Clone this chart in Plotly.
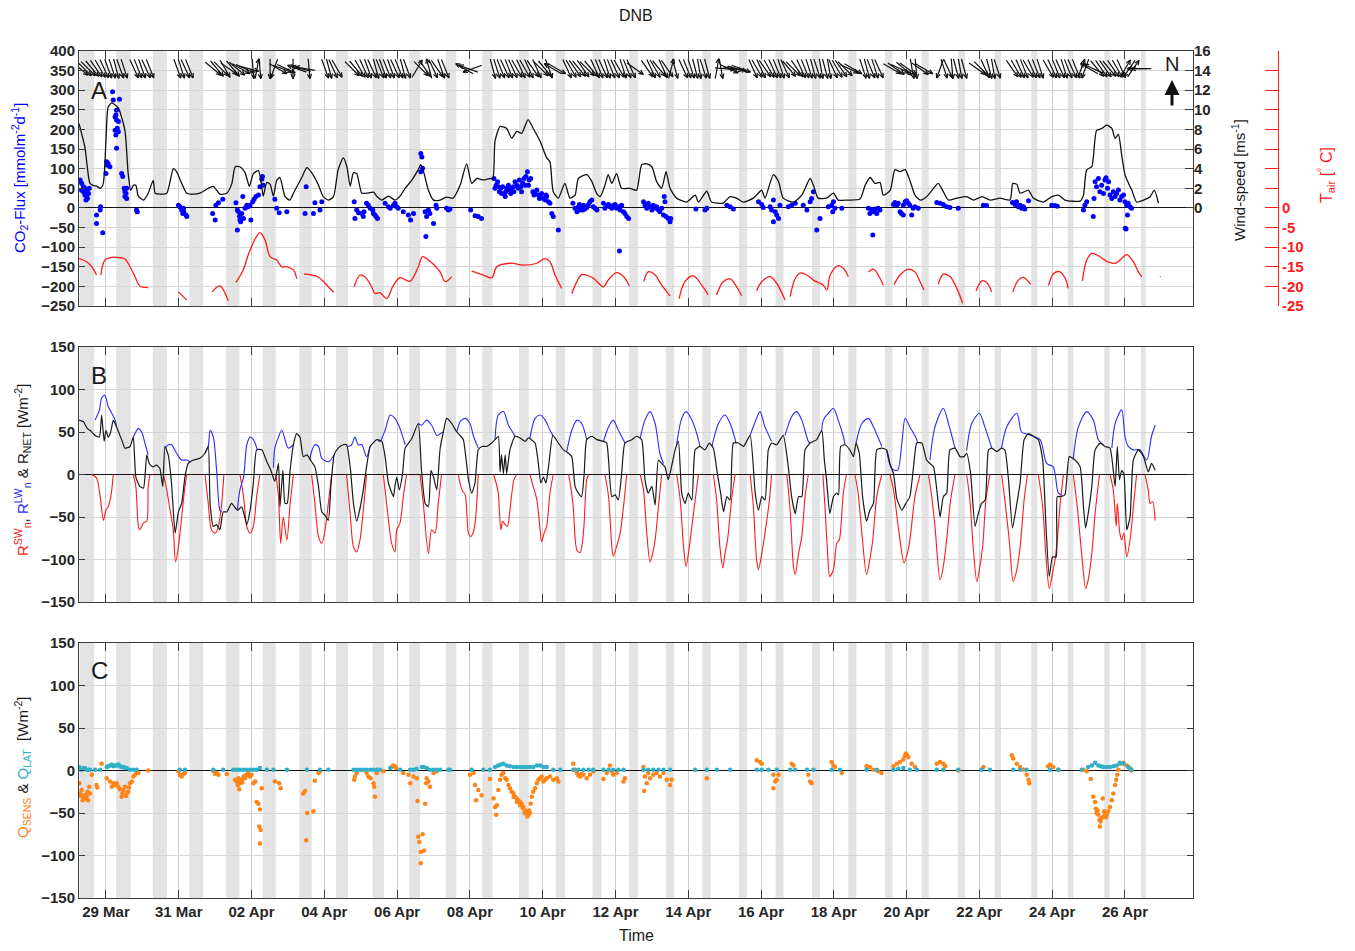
import math
import pandas as pd
import plotly.graph_objects as go

BASE = pd.Timestamp('2017-03-28')          # day 0 = 28 Mar 00:00
X_START = '2017-03-28 06:12'
X_END = '2017-04-27 20:53'

# ---------------- DATA (day offset from 28 Mar 00:00, value) ----------------
co2_flux = [
 (0.29,71),(0.33,63),(0.38,54),(0.42,50),(0.33,45),(0.45,41),(0.49,46),(0.52,37),(0.42,33),(0.47,29),
 (0.38,41),(0.54,50),(0.49,24),(0.45,20),(0.74,-18),(0.74,-40),(0.84,-5),(0.85,3),(0.91,-63),
 (1.00,88),(1.02,118),(1.04,109),(1.06,113),(1.11,105),(1.18,296),(1.20,275),(1.37,277),(1.25,232),
 (1.27,237),(1.29,224),(1.31,203),(1.25,198),(1.27,186),(1.34,194),(1.29,152),(1.29,249),(1.34,220),
 (1.43,88),(1.46,80),(1.50,50),(1.52,41),(1.55,37),(1.52,29),(1.57,24),(1.57,50),(1.84,-5),(1.86,-10),
 (2.99,7),(3.03,3),(3.08,-5),(3.11,-14),(3.13,-1),(3.14,-10),(3.20,-18),(3.22,-22),
 (3.93,-14),(4.00,-31),(4.02,7),(4.09,13),(4.21,22),
 (4.57,13),(4.61,-5),(4.64,-10),(4.67,-21),(4.61,-56),(4.68,-31),(4.70,-35),(4.78,-27),(4.73,-14),
 (4.76,29),(4.87,7),(4.91,3),(4.96,7),(4.98,-31),(5.03,16),(5.07,22),(5.12,29),(5.19,33),(5.23,54),
 (5.28,73),(5.30,80),(5.32,58),(4.82,-1),
 (5.64,22),(5.69,-1),(5.76,-12),(5.97,-10),
 (6.47,-14),(6.50,54),(6.70,-14),(6.74,13),(6.88,-5),(6.93,16),
 (7.82,16),(7.84,-27),(7.89,-5),(7.94,-12),(8.03,-14),(8.07,-22),(8.09,-10),(8.16,12),(8.21,7),
 (8.26,-1),(8.33,-5),(8.35,-14),(8.39,-18),(8.42,-22),(8.46,-27),
 (8.67,12),(8.76,3),(8.81,-1),(8.90,7),(8.94,12),(8.99,3),(9.03,-1),(9.17,-10),(9.31,-18),(9.37,-31),
 (9.45,-14),(9.65,139),(9.68,130),(9.65,92),(9.70,101),(9.77,-10),(9.81,-22),(9.79,-73),(9.86,-5),
 (9.90,-14),(10.00,-40),(10.07,7),(10.09,-1),(10.36,-1),(10.41,-5),
 (10.45,-3),(11.02,-5),(11.14,-20),(11.23,-22),(11.32,-27),
 (11.66,75),(11.69,50),(11.72,58),(11.76,67),(11.78,54),(11.81,41),(11.85,50),(11.87,37),(11.90,54),
 (11.94,37),(11.97,29),(11.99,41),(12.01,50),(12.06,58),(12.10,46),(12.12,37),(12.15,50),(12.20,54),
 (12.21,41),(12.24,67),(12.29,58),(12.33,50),(12.36,71),(12.40,54),(12.42,41),(12.45,63),(12.49,75),
 (12.52,58),(12.54,80),(12.58,92),(12.61,58),(12.63,71),(12.67,75),(12.73,41),(12.76,33),(12.79,37),
 (12.84,46),(12.88,33),(12.91,24),(12.93,29),(12.97,37),(13.02,24),(13.07,20),(13.09,33),(13.11,29),
 (13.16,16),(13.20,12),(13.25,-14),(13.29,-22),(13.43,-56),
 (13.83,12),(13.89,-1),(13.94,-10),(13.98,3),(14.01,9),(14.03,-5),(14.07,-1),(14.10,-5),(14.12,7),
 (14.16,-3),(14.21,1),(14.26,9),(14.30,16),(14.35,20),(14.39,3),(14.44,-1),(14.49,-5),
 (14.67,12),(14.71,-1),(14.76,7),(14.81,9),(14.85,3),(14.90,-1),(14.94,6),(14.99,9),(15.03,-1),
 (15.08,3),(15.11,-110),(15.13,-5),(15.17,7),(15.22,-10),(15.26,-14),(15.31,-22),(15.36,-27),
 (15.77,16),(15.81,7),(15.86,-1),(15.90,12),(15.95,3),(16.00,-5),(16.04,7),(16.09,-1),(16.13,3),
 (16.18,-5),(16.22,-10),(16.27,-1),(16.32,-18),(16.34,29),(16.36,16),(16.39,-22),(16.45,-27),
 (16.50,-35),(16.52,-27),
 (17.21,-3),(17.46,-5),(17.51,-1),(18.06,7),(18.15,3),(18.24,-3),
 (18.93,16),(19.02,9),(19.06,1),(19.25,3),(19.29,-5),(19.34,20),(19.39,-10),(19.43,-18),(19.48,-27),
 (19.34,-35),(19.52,7),(19.75,3),(19.84,7),(19.94,12),(20.16,7),(20.26,-5),(20.35,16),(20.39,24),
 (20.44,41),(20.62,-27),(20.53,-56),(20.85,3),
 (20.94,7),(20.99,16),(21.03,-1),(20.97,-10),(21.22,-1),
 (21.95,-1),(21.99,-14),(22.04,-5),(22.09,-10),(22.13,-3),(22.18,-14),(22.22,-1),(22.27,-5),(22.07,-69),
 (22.64,9),(22.68,14),(22.73,7),(22.77,12),(22.82,-10),(22.86,-14),(22.91,-18),(22.96,16),(23.00,18),
 (23.05,12),(23.09,7),(23.14,-18),(23.18,-1),(23.23,3),(23.32,-1),(22.91,7),
 (23.83,14),(23.92,12),(24.01,9),(24.10,3),(24.19,1),(24.42,-1),
 (25.11,7),(25.20,6),
 (25.91,14),(25.98,9),(26.02,16),(26.07,3),(26.12,7),(26.16,-1),(26.21,3),(26.25,-3),(26.35,18),
 (26.99,7),(27.08,6),(27.14,4),
 (27.86,-5),(27.90,7),(27.95,16),(28.13,-22),(28.15,24),(28.18,67),(28.22,54),(28.27,75),(28.31,41),
 (28.36,58),(28.41,37),(28.45,71),(28.48,77),(28.52,50),(28.55,67),(28.59,33),(28.64,24),(28.68,41),
 (28.73,29),(28.77,37),(28.82,46),(28.86,20),(28.91,29),(28.96,33),(29.00,16),(29.05,7),(29.07,-18),
 (29.09,12),(29.03,-54),(29.01,-52),(29.14,3),(29.18,-1),
]

wind_speed = [
 (0.26,8.6),(0.42,6.2),(0.56,2.5),(0.65,2.3),(0.75,2.2),(0.84,2.0),(0.92,2.4),(1.00,6.9),(1.06,10.3),
 (1.16,10.7),(1.25,10.5),(1.34,10.2),(1.52,7.9),(1.61,3.5),(1.68,1.8),(1.75,2.3),(1.82,2.3),(1.89,1.2),
 (2.03,0.8),(2.16,1.5),(2.30,2.8),(2.35,1.5),(2.48,1.4),(2.67,1.5),(2.85,4.0),(2.94,3.7),(3.08,2.5),
 (3.22,1.5),(3.40,1.4),(3.58,1.5),(3.81,2.0),(3.95,2.2),(4.13,1.4),(4.32,1.5),(4.46,2.5),(4.55,4.2),
 (4.68,4.2),(4.82,3.6),(4.94,2.2),(5.05,3.5),(5.19,3.8),(5.28,2.2),(5.32,1.2),(5.42,2.6),(5.51,2.4),
 (5.60,1.2),(5.69,2.8),(5.78,3.1),(5.92,1.15),(6.05,0.8),(6.15,1.5),(6.38,3.1),(6.52,4.1),(6.65,3.6),
 (6.83,2.4),(6.97,1.15),(7.11,0.8),(7.25,1.15),(7.38,3.9),(7.52,5.1),(7.62,4.2),(7.71,2.2),(7.80,3.6),
 (7.89,3.5),(8.03,1.5),(8.16,1.5),(8.35,1.6),(8.44,1.2),(8.58,0.8),(8.76,1.2),(8.94,0.8),(9.08,1.2),
 (9.22,2.0),(9.40,2.8),(9.58,3.9),(9.65,4.4),(9.72,3.8),(9.86,1.8),(10.00,0.8),(10.18,0.8),(10.36,1.1),
 (10.54,1.0),(10.73,2.3),(10.91,4.5),(11.05,2.5),(11.19,3.0),(11.37,2.85),(11.55,3.0),(11.63,3.0),
 (11.69,6.8),(11.83,8.3),(12.01,8.1),(12.15,7.1),(12.29,7.8),(12.42,7.6),(12.60,9.0),(12.74,8.1),
 (12.93,6.8),(13.11,5.1),(13.20,4.7),(13.29,1.65),(13.43,1.0),(13.61,2.5),(13.75,1.0),(13.89,1.3),
 (13.98,3.0),(14.21,3.4),(14.35,2.7),(14.48,1.5),(14.58,1.15),(14.71,2.3),(14.80,3.4),(14.90,2.5),
 (15.03,3.5),(15.17,2.0),(15.40,2.0),(15.58,1.8),(15.72,4.4),(15.86,4.5),(16.00,4.2),(16.13,2.7),
 (16.27,2.0),(16.39,3.7),(16.50,2.0),(16.68,1.0),(16.96,0.6),(17.19,1.3),(17.28,0.6),(17.51,1.7),
 (17.64,0.6),(17.96,0.5),(18.15,1.15),(18.33,1.0),(18.51,0.6),(18.79,1.0),(19.02,1.8),(19.11,1.0),
 (19.34,3.4),(19.48,2.7),(19.61,1.0),(19.89,0.6),(20.12,1.3),(20.35,3.0),(20.44,2.3),(20.57,1.0),
 (20.80,1.0),(20.99,1.5),(21.12,0.8),(21.35,0.8),(21.72,0.9),(21.86,2.3),(22.00,3.1),(22.13,2.5),
 (22.27,2.6),(22.36,1.3),(22.55,1.8),(22.68,3.9),(22.82,3.7),(22.96,3.9),(23.10,2.7),(23.23,1.3),
 (23.37,0.8),(23.55,1.15),(23.74,2.0),(23.87,2.5),(24.01,1.65),(24.15,0.8),(24.38,1.0),(24.65,1.15),
 (24.84,0.8),(25.07,1.15),(25.30,0.8),(25.57,1.0),(25.84,0.8),(25.92,2.5),(26.03,2.4),(26.12,1.5),
 (26.35,1.8),(26.48,1.0),(26.76,0.6),(26.99,1.15),(27.17,1.3),(27.35,0.8),(27.77,0.7),(27.86,1.3),
 (27.95,3.9),(28.09,4.2),(28.22,7.9),(28.36,8.1),(28.50,8.45),(28.64,8.1),(28.73,7.1),(28.82,7.5),
 (28.91,5.4),(29.00,3.4),(29.10,2.5),(29.19,1.8),(29.32,0.6),(29.51,0.8),(29.69,1.15),(29.81,1.8),
 (29.92,0.5),
]

air_temp = [
 (0.26,-12.9),(0.47,-13.7),(0.61,-15.0),(0.74,-17.1),None,
 (0.86,-17.1),(0.97,-13.3),(1.16,-12.6),(1.38,-12.7),(1.52,-13.0),(1.66,-15.0),(1.80,-17.6),(1.93,-19.9),(2.16,-20.3),None,
 (2.99,-21.4),(3.22,-23.5),None,
 (3.92,-21.4),(4.13,-19.9),(4.36,-23.7),None,
 (4.57,-19.0),(4.77,-15.8),(4.96,-10.7),(5.23,-6.3),(5.37,-8.2),(5.51,-12.4),(5.69,-13.3),(5.83,-15.0),(5.97,-15.0),(6.15,-15.8),(6.24,-18.0),None,
 (6.44,-16.9),(6.65,-17.1),(6.83,-17.6),(7.02,-19.2),(7.25,-21.5),None,
 (7.82,-20.1),(7.98,-17.1),(8.12,-17.6),(8.30,-20.1),(8.39,-21.8),(8.53,-21.6),(8.71,-23.1),(8.90,-19.7),(9.08,-17.8),(9.35,-18.7),(9.58,-15.0),(9.70,-12.4),(9.86,-13.3),(9.99,-14.3),(10.18,-16.3),(10.32,-18.8),(10.50,-17.5),None,
 (11.05,-16.1),(11.37,-17.1),(11.60,-17.8),(11.74,-15.0),(12.10,-14.1),(12.47,-14.6),(12.84,-14.1),(13.06,-12.9),(13.20,-13.7),(13.34,-17.1),(13.52,-20.5),None,
 (13.80,-21.8),(13.94,-18.8),(14.07,-17.0),(14.39,-17.9),(14.67,-20.1),(14.80,-18.4),(15.03,-16.5),(15.22,-17.5),(15.38,-19.9),None,
 (15.78,-18.8),(15.90,-16.3),(16.09,-17.1),(16.27,-19.7),(16.50,-22.4),None,
 (16.75,-23.1),(16.91,-18.8),(17.14,-17.3),(17.37,-19.7),(17.55,-22.2),None,
 (17.78,-22.2),(17.96,-18.8),(18.15,-18.1),(18.33,-20.1),(18.47,-22.4),None,
 (18.88,-21.1),(19.02,-18.8),(19.25,-17.5),(19.43,-19.2),(19.66,-23.5),None,
 (19.80,-22.6),(19.94,-18.0),(20.07,-16.6),(20.26,-17.1),(20.44,-18.4),(20.57,-19.0),(20.71,-19.7),(20.81,-20.9),(20.90,-17.1),(21.13,-14.7),(21.26,-15.4),(21.40,-17.5),None,
 (21.95,-16.3),(22.09,-15.6),(22.22,-17.1),(22.36,-19.7),None,
 (22.66,-19.5),(22.82,-17.1),(23.05,-15.6),(23.23,-16.3),(23.37,-18.8),(23.48,-20.9),None,
 (23.87,-19.5),(24.01,-16.9),(24.19,-17.5),(24.38,-20.5),(24.54,-24.3),None,
 (24.91,-21.1),(25.07,-18.6),(25.20,-19.0),(25.34,-21.4),None,
 (25.92,-21.4),(26.07,-18.4),(26.21,-17.7),(26.41,-19.5),None,
 (26.90,-19.8),(27.04,-16.7),(27.22,-16.3),(27.36,-18.0),(27.44,-20.5),None,
 (27.83,-18.6),(27.95,-13.3),(28.09,-11.6),(28.27,-12.2),(28.50,-13.6),(28.73,-14.1),(28.91,-12.9),(29.05,-11.9),(29.23,-13.7),(29.37,-16.3),(29.46,-17.5),None,
 (29.96,-17.5),(29.98,-17.6),
]

# wind direction the arrow points to (deg, clockwise from north)
wind_dir = [
 (0.29,130),(0.40,135),(0.51,135),(0.62,140),(0.73,145),(0.84,150),(0.95,155),(1.06,160),(1.17,162),
 (1.28,165),(1.39,160),(1.50,162),(1.77,155),(1.88,158),(1.99,160),(2.10,155),(2.21,158),
 (2.96,160),(3.07,162),(3.18,155),(3.29,158),
 (3.94,130),(4.05,140),(4.16,135),(4.27,150),(4.38,125),(4.49,140),(4.60,130),(4.71,120),(4.82,115),
 (4.93,105),(5.04,175),(5.15,10),(5.23,175),
 (5.51,180),(5.62,200),(5.73,120),(5.84,110),(5.95,115),
 (6.14,180),(6.25,290),(6.36,285),(6.47,280),(6.58,175),
 (7.02,160),(7.13,165),(7.24,155),(7.35,150),
 (7.76,135),(7.87,140),(7.98,150),(8.09,155),(8.20,160),(8.31,155),(8.42,165),(8.53,158),
 (8.61,160),(8.72,158),(8.83,160),(8.94,155),(9.05,158),(9.16,165),(9.27,160),
 (9.55,30),(9.66,135),(9.77,145),(9.88,345),(9.99,155),(10.10,145),(10.21,160),(10.32,158),
 (10.85,300),(10.96,290),(11.07,250),
 (11.63,165),(11.74,162),(11.85,158),(11.96,155),(12.07,158),(12.18,155),(12.29,150),(12.40,155),
 (12.51,150),(12.62,155),(12.73,145),(12.84,155),(12.95,135),(13.06,140),(13.17,160),
 (13.28,300),(13.39,120),
 (13.67,155),(13.78,150),(13.89,145),(14.00,140),(14.11,145),(14.22,135),(14.33,140),(14.44,155),
 (14.55,158),(14.66,155),(14.77,162),(14.88,158),(14.99,155),(15.10,150),(15.21,162),(15.32,158),
 (15.43,155),(15.54,125),
 (15.87,145),(15.98,155),(16.09,150),(16.20,140),(16.31,155),(16.42,145),(16.53,15),(16.64,165),
 (16.86,155),(16.97,158),(17.08,162),(17.19,165),(17.30,170),(17.41,162),(17.52,165),
 (17.79,10),(17.90,170),(18.01,95),(18.12,115),(18.23,100),(18.34,105),(18.45,110),
 (18.78,155),(18.89,150),(19.00,155),(19.11,145),(19.22,150),(19.33,155),(19.44,158),(19.55,162),
 (19.66,155),(19.77,140),(19.88,135),(19.99,145),(20.10,155),(20.21,158),(20.32,162),(20.43,165),
 (20.54,162),(20.65,170),(20.76,165),(20.87,170),
 (20.98,155),(21.09,150),(21.20,145),(21.31,135),(21.42,115),(21.53,120),
 (21.80,162),(21.91,165),(22.02,158),(22.13,162),(22.24,155),
 (22.60,120),(22.71,125),(22.82,115),(22.93,130),(23.04,125),(23.15,170),(23.26,175),(23.37,125),(23.48,120),
 (23.92,200),(24.03,162),(24.14,155),(24.25,175),(24.36,165),(24.47,170),(24.58,165),
 (24.94,125),(25.05,135),(25.16,155),(25.27,165),(25.38,170),(25.49,162),
 (25.90,145),(26.01,150),(26.12,155),(26.23,158),(26.34,150),(26.45,155),(26.56,158),(26.67,162),
 (26.89,150),(27.00,155),(27.11,158),(27.22,155),(27.33,162),(27.44,158),(27.55,155),(27.66,158),
 (27.80,20),(27.91,200),(28.02,300),(28.13,295),(28.24,140),(28.35,145),(28.46,145),(28.57,140),
 (28.68,145),(28.79,150),(28.90,155),(29.01,30),(29.12,215),(29.23,35),(29.34,270),(29.45,270),
]

rad_sw = [
 (0.61,0),(0.74,-4),(0.84,-26),(0.93,-54),(1.00,-42),(1.06,-38),(1.14,-24),(1.20,0),None,
 (1.75,0),(1.82,-14),(1.89,-61),(1.93,-65),(2.03,-57),(2.12,-55),(2.16,-14),(2.21,0),None,
 (2.58,0),(2.67,-18),(2.76,-42),(2.85,-65),(2.91,-103),(2.99,-85),(3.08,-50),(3.17,-14),(3.22,0),None,
 (3.72,0),(3.81,-34),(3.90,-65),(4.00,-69),(4.09,-61),(4.18,-34),(4.24,0),None,
 (4.68,0),(4.78,-26),(4.87,-61),(4.96,-69),(5.05,-61),(5.14,-26),(5.23,0),None,
 (5.67,0),(5.74,-26),(5.80,-81),(5.87,-50),(5.97,-77),(6.06,-34),(6.15,0),None,
 (6.65,0),(6.74,-34),(6.84,-73),(6.93,-81),(7.02,-65),(7.11,-34),(7.20,0),None,
 (7.61,0),(7.71,-46),(7.80,-85),(7.89,-91),(7.98,-77),(8.07,-42),(8.16,0),None,
 (8.62,0),(8.71,-34),(8.85,-81),(8.94,-91),(8.99,-65),(9.08,-57),(9.17,-26),(9.26,0),None,
 (9.63,0),(9.72,-34),(9.86,-93),(9.95,-65),(10.04,-69),(10.13,-34),(10.22,0),None,
 (10.68,0),(10.78,-18),(10.87,-24),(10.96,-69),(11.02,-73),(11.10,-67),(11.16,-50),(11.23,0),None,
 (11.65,0),(11.72,-10),(11.78,-22),(11.85,-65),(11.90,-55),(11.97,-59),(12.03,-61),(12.10,-42),(12.21,-6),(12.29,0),None,
 (12.65,0),(12.74,-14),(12.84,-30),(12.93,-65),(12.97,-79),(13.04,-69),(13.11,-61),(13.20,-22),(13.29,0),None,
 (13.71,0),(13.77,-14),(13.84,-38),(13.94,-89),(14.03,-92),(14.10,-77),(14.14,-57),(14.21,-6),(14.26,0),None,
 (14.71,0),(14.81,-26),(14.90,-85),(14.94,-96),(15.03,-85),(15.13,-69),(15.22,-38),(15.31,0),None,
 (15.68,0),(15.77,-18),(15.86,-69),(15.95,-103),(16.02,-93),(16.09,-77),(16.18,-38),(16.27,0),None,
 (16.68,0),(16.78,-30),(16.87,-85),(16.94,-108),(17.03,-85),(17.10,-61),(17.19,-30),(17.28,0),None,
 (17.69,0),(17.78,-30),(17.87,-85),(17.95,-110),(18.01,-93),(18.08,-77),(18.19,-30),(18.29,0),None,
 (18.70,0),(18.79,-38),(18.88,-101),(18.93,-112),(19.02,-93),(19.11,-69),(19.23,-30),(19.29,0),None,
 (19.71,0),(19.80,-42),(19.89,-108),(19.94,-118),(20.03,-93),(20.12,-73),(20.21,-26),(20.30,0),None,
 (20.70,0),(20.76,-40),(20.82,-85),(20.89,-120),(20.99,-112),(21.08,-81),(21.15,-77),(21.26,-22),(21.35,0),None,
 (21.58,0),(21.67,-22),(21.77,-69),(21.90,-118),(21.99,-100),(22.07,-77),(22.18,-26),(22.32,0),None,
 (22.54,0),(22.64,-18),(22.77,-61),(22.93,-104),(23.02,-93),(23.09,-77),(23.23,-26),(23.37,0),None,
 (23.60,0),(23.69,-26),(23.78,-61),(23.92,-124),(24.01,-108),(24.10,-77),(24.21,-30),(24.33,0),None,
 (24.65,0),(24.74,-30),(24.83,-85),(24.93,-126),(25.00,-112),(25.09,-85),(25.18,-30),(25.29,0),None,
 (25.61,0),(25.70,-30),(25.82,-77),(25.93,-126),(26.03,-112),(26.12,-85),(26.23,-30),(26.32,0),None,
 (26.62,0),(26.74,-38),(26.83,-97),(26.92,-134),(27.01,-116),(27.08,-100),(27.14,-77),(27.23,-30),(27.31,0),None,
 (27.58,0),(27.69,-38),(27.81,-93),(27.92,-134),(27.99,-124),(28.09,-93),(28.18,-46),(28.30,0),None,
 (28.59,0),(28.68,-18),(28.76,-61),(28.79,-34),(28.86,-69),(28.91,-77),(28.97,-69),(29.05,-97),(29.14,-77),(29.25,-30),(29.32,0),None,
 (29.55,0),(29.64,-18),(29.69,-34),(29.76,-32),(29.83,-54),
]

rad_lw = [
 (0.70,64),(0.82,76),(0.88,90),(0.97,93),(1.06,80),(1.16,72),(1.25,64),(1.29,56),None,
 (1.75,44),(1.89,54),(1.98,50),(2.07,37),(2.16,23),None,
 (2.62,31),(2.71,35),(2.80,35),(2.94,25),(3.08,17),(3.22,17),(3.30,15),None,
 (3.72,25),(3.81,33),(3.86,52),(3.95,44),(4.04,5),(4.13,-42),(4.18,-44),None,
 (4.61,-42),(4.68,-18),(4.78,-3),(4.87,35),(4.96,44),(5.05,41),(5.16,29),None,
 (5.60,8),(5.64,31),(5.74,44),(5.83,52),(5.92,41),(6.01,31),(6.15,35),None,
 (6.60,17),(6.65,27),(6.74,35),(6.84,33),(6.93,19),(7.11,15),(7.27,23),None,
 (7.62,33),(7.66,33),(7.75,35),(7.84,44),(7.93,35),(8.03,35),(8.16,21),(8.26,33),None,
 (8.48,40),(8.53,39),(8.67,52),(8.81,70),(8.94,66),(9.08,54),(9.22,35),None,
 (9.58,60),(9.67,58),(9.81,64),(9.95,58),(10.09,46),(10.18,48),(10.27,50),None,
 (10.64,50),(10.73,62),(10.87,66),(11.00,60),(11.10,45),(11.23,31),None,
 (11.69,41),(11.78,70),(11.92,74),(12.06,58),(12.20,48),(12.24,45),None,
 (12.65,43),(12.79,66),(12.93,70),(13.07,64),(13.20,52),(13.28,46),None,
 (13.66,27),(13.80,52),(13.94,64),(14.07,60),(14.21,41),None,
 (14.67,39),(14.81,56),(14.94,64),(15.08,52),(15.26,37),None,
 (15.68,43),(15.81,64),(15.95,74),(16.09,60),(16.22,25),(16.32,13),None,
 (16.68,35),(16.82,66),(16.94,74),(17.10,64),(17.28,41),(17.32,33),None,
 (17.65,33),(17.83,60),(18.01,70),(18.15,60),(18.29,41),(18.31,37),None,
 (18.70,46),(18.84,62),(18.97,74),(19.11,56),(19.29,39),None,
 (19.66,46),(19.84,68),(19.98,74),(20.12,64),(20.30,39),(20.35,37),None,
 (20.67,52),(20.71,64),(20.85,72),(20.99,78),(21.12,64),(21.26,45),(21.31,35),None,
 (21.61,37),(21.77,60),(21.95,66),(22.09,56),(22.32,33),None,
 (22.45,29),(22.59,7),(22.75,5),(22.87,37),(22.96,66),(23.09,56),(23.28,41),(23.30,37),None,
 (23.64,17),(23.78,56),(24.01,78),(24.15,60),(24.33,31),None,
 (24.65,28),(24.79,60),(25.00,72),(25.15,56),(25.34,31),None,
 (25.61,31),(25.75,56),(26.03,72),(26.16,50),(26.35,47),(26.48,45),(26.67,41),(26.85,13),(27.03,9),(27.17,-22),(27.26,-24),None,
 (27.58,19),(27.72,56),(27.95,74),(28.13,64),(28.27,41),(28.41,35),None,
 (28.64,31),(28.73,60),(28.91,76),(29.00,45),(29.09,33),(29.23,29),(29.41,29),(29.60,17),(29.73,45),(29.83,58),
]

rad_net = [
 (0.26,64),(0.38,62),(0.49,54),(0.56,52),(0.65,48),(0.74,45),(0.82,44),(0.88,70),(0.95,39),(1.00,52),
 (1.06,44),(1.13,50),(1.20,64),(1.29,56),(1.43,41),(1.52,31),(1.66,33),(1.75,44),(1.82,-3),(1.93,-14),
 (2.03,-16),(2.12,23),(2.19,13),(2.28,9),(2.39,11),(2.48,7),(2.56,-14),(2.62,33),(2.71,23),(2.80,-10),
 (2.90,-69),(2.99,-44),(3.08,-34),(3.17,-3),(3.26,13),(3.40,17),(3.58,19),(3.72,25),(3.81,33),(3.86,-34),
 (3.95,-61),(4.04,-59),(4.13,-65),(4.22,-44),(4.32,-44),(4.45,-34),(4.61,-42),(4.73,-38),(4.87,-59),
 (4.96,-42),(5.05,-10),(5.14,29),(5.28,29),(5.42,15),(5.53,5),(5.64,-8),(5.74,13),(5.78,-38),(5.86,5),
 (5.92,-34),(5.98,-34),(6.06,5),(6.15,35),(6.24,48),(6.33,44),(6.42,21),(6.52,23),(6.65,15),(6.74,9),
 (6.84,-14),(6.93,-44),(7.02,-48),(7.11,-54),(7.18,-14),(7.27,23),(7.38,31),(7.52,35),(7.61,35),(7.71,9),
 (7.80,-34),(7.89,-55),(7.98,-40),(8.07,-18),(8.16,9),(8.26,33),(8.44,41),(8.58,39),(8.67,21),(8.76,-10),
 (8.90,-26),(8.94,-14),(8.99,-3),(9.06,-18),(9.15,1),(9.22,31),(9.40,42),(9.58,60),(9.67,5),(9.77,-34),
 (9.86,-38),(9.93,5),(10.00,-3),(10.09,-18),(10.18,30),(10.27,50),(10.36,66),(10.50,60),(10.64,50),
 (10.73,46),(10.82,41),(10.96,-6),(11.05,-22),(11.14,-10),(11.23,29),(11.33,33),(11.46,33),(11.60,37),
 (11.69,41),(11.78,45),(11.83,3),(11.87,23),(11.92,1),(11.97,23),(12.01,1),(12.10,29),(12.24,45),
 (12.38,43),(12.52,39),(12.61,43),(12.79,37),(12.88,13),(12.95,-10),(13.02,-3),(13.09,-10),(13.16,9),
 (13.28,46),(13.43,37),(13.57,29),(13.71,25),(13.80,21),(13.89,-14),(13.98,-22),(14.07,-26),(14.14,1),
 (14.21,41),(14.35,45),(14.49,41),(14.67,39),(14.76,37),(14.81,17),(14.90,-26),(14.99,-24),(15.08,-30),
 (15.17,1),(15.26,37),(15.45,41),(15.58,45),(15.72,41),(15.81,-6),(15.90,-22),(16.00,-14),(16.09,-36),
 (16.18,17),(16.27,13),(16.36,9),(16.45,-6),(16.54,9),(16.64,29),(16.73,39),(16.82,-22),(16.91,-34),
 (17.00,-22),(17.10,-30),(17.19,29),(17.32,33),(17.46,29),(17.58,37),(17.69,31),(17.80,1),(17.89,-22),
 (17.97,-44),(18.06,-26),(18.15,-30),(18.24,37),(18.38,37),(18.52,33),(18.70,46),(18.84,-22),(18.93,-42),
 (19.02,-26),(19.11,-30),(19.20,29),(19.29,37),(19.43,35),(19.61,46),(19.75,9),(19.84,-26),(19.94,-46),
 (20.03,-26),(20.12,-26),(20.21,29),(20.35,37),(20.53,41),(20.67,52),(20.74,17),(20.80,-6),(20.89,-46),
 (20.99,-26),(21.08,-22),(21.13,-24),(21.19,33),(21.31,35),(21.44,29),(21.54,21),(21.61,37),(21.70,25),
 (21.79,-26),(21.90,-55),(21.99,-42),(22.09,-34),(22.18,29),(22.32,31),(22.45,29),(22.54,13),(22.64,1),
 (22.73,-28),(22.87,-42),(22.98,-34),(23.09,-26),(23.19,9),(23.28,37),(23.42,37),(23.55,17),(23.64,13),
 (23.74,9),(23.83,-18),(23.92,-50),(24.01,-26),(24.10,-22),(24.19,29),(24.33,31),(24.47,21),(24.58,21),
 (24.65,25),(24.76,1),(24.88,-61),(24.97,-46),(25.06,-34),(25.16,-30),(25.25,29),(25.34,31),(25.48,27),
 (25.61,31),(25.70,29),(25.80,-6),(25.91,-63),(26.03,-34),(26.12,-10),(26.23,41),(26.35,48),(26.48,45),
 (26.62,41),(26.74,17),(26.83,-61),(26.92,-120),(27.01,-97),(27.11,-97),(27.14,-26),(27.23,-26),(27.35,-24),
 (27.47,21),(27.63,17),(27.77,9),(27.86,-38),(27.92,-63),(27.99,-46),(28.09,-14),(28.18,29),(28.32,37),
 (28.45,33),(28.59,31),(28.73,-14),(28.79,33),(28.85,-6),(28.91,5),(28.97,1),(29.05,-65),(29.14,-50),
 (29.23,17),(29.37,29),(29.51,21),(29.64,3),(29.73,13),(29.83,5),
]

q_sens = [
 (0.27,-15),(0.29,-27),(0.33,-23),(0.38,-31),(0.42,-29),(0.45,-33),(0.49,-25),(0.51,-35),(0.54,-19),(0.56,-27),
 (0.61,-5),(0.74,-17),(0.76,-20),(0.31,-30),(0.36,-35),(0.47,-30),
 (0.88,8),(1.02,-9),(1.11,-13),(1.16,-19),(1.20,-15),(1.25,-17),(1.29,-15),(1.34,-19),(1.43,-31),(1.48,-23),
 (1.52,-19),(1.57,-27),(1.61,-25),(1.66,-15),(1.71,-13),(1.75,-7),(1.80,-5),(1.84,-1),(1.89,-3),(2.16,0),
 (1.38,-22),(1.45,-27),(1.55,-30),(1.63,-20),
 (2.99,-1),(3.03,-5),(3.08,-7),(3.13,-4),(3.17,-3),
 (3.95,-1),(4.00,-4),(4.04,-3),(4.09,-5),(4.32,-4),
 (4.55,-11),(4.59,-13),(4.64,-9),(4.68,-15),(4.73,-11),(4.78,-7),(4.82,-9),(4.87,-5),(4.91,-3),(4.96,-7),
 (5.00,-5),(5.05,-15),(5.10,-13),(4.66,-22),(5.14,-37),(5.19,-39),(5.23,-46),(5.21,-66),(5.25,-70),(5.23,-86),(5.28,-21),
 (4.62,-17),(4.70,-12),(4.75,-14),(4.84,-6),
 (5.64,-13),(5.76,-15),(5.80,-21),
 (6.42,-27),(6.47,-24),(6.50,-82),(6.53,-50),(6.70,-48),(6.74,-12),(6.84,-3),(6.88,-1),
 (7.82,-11),(7.84,-7),(7.89,-3),(8.16,-3),(8.21,-7),(8.27,-9),(8.35,-15),(8.37,-19),(8.39,-31),(8.44,-3),
 (8.62,-1),(8.85,4),(8.94,5),(8.89,6),(8.97,3),
 (9.17,-3),(9.31,-5),(9.36,-15),(9.45,-7),(9.54,-9),(9.56,-36),(9.58,-78),(9.61,-84),(9.65,-96),(9.65,-109),
 (9.70,-75),(9.74,-94),(9.77,-39),(9.80,-15),(9.81,-9),(9.86,-13),(9.90,-19),(10.00,-3),(10.09,-1),
 (11.00,-5),(11.10,-3),(11.14,-17),(11.17,-35),(11.23,-23),(11.32,-29),(11.55,-10),(11.65,-33),(11.69,-43),
 (11.72,-52),(11.74,-41),(11.78,-23),(11.83,-11),(11.87,-5),(11.92,-3),(11.97,-9),(12.01,-11),(12.06,-17),
 (12.10,-21),(12.15,-25),(12.20,-27),(12.24,-31),(12.29,-33),(12.33,-35),(12.38,-37),(12.42,-39),(12.47,-43),
 (12.52,-47),(12.56,-50),(12.61,-52),(12.63,-47),(12.67,-39),(12.70,-31),(12.74,-25),(12.79,-21),(12.84,-15),
 (12.88,-11),(12.93,-9),(12.97,-7),(13.02,-13),(13.07,-11),(13.11,-9),(13.20,-7),(13.29,-11),(13.39,-9),(13.43,-13),
 (12.29,-37),(12.38,-41),(12.54,-48),(12.58,-54),(12.65,-50),(12.20,-31),(12.45,-44),(12.50,-50),
 (13.84,8),(13.89,1),(13.94,-3),(14.03,-7),(14.12,-5),(14.21,-9),(14.30,-5),(14.39,-1),(14.67,-10),(14.76,-3),
 (14.85,6),(14.90,-1),(14.94,-5),(15.03,-3),(15.22,-13),(15.26,-9),(13.98,-6),(14.07,-4),
 (15.77,4),(15.81,-7),(15.86,-15),(15.90,-3),(15.95,-9),(16.04,-5),(16.13,-3),(16.22,-7),(16.32,-3),(16.41,-11),
 (16.50,-17),(16.54,-11),(15.79,-24),
 (17.51,-9),
 (18.88,12),(18.97,10),(19.02,8),(19.34,-5),(19.39,-13),(19.43,-11),(19.34,-21),(19.48,-5),(19.84,8),(19.89,6),
 (20.30,-5),(20.35,-13),(20.39,-15),
 (20.94,10),(20.99,6),(21.03,4),(21.22,-3),(21.90,5),(21.99,4),(22.09,1),(22.22,-1),(22.31,-3),
 (22.64,5),(22.73,8),(22.82,10),(22.91,13),(22.98,20),(23.05,16),(23.14,8),(23.23,4),(22.95,17),(23.01,18),
 (23.83,8),(23.92,10),(24.01,8),(24.06,5),(24.42,0),(25.11,4),
 (25.89,18),(25.93,14),(26.03,8),(26.12,4),(26.21,1),(26.30,-5),(26.35,-11),(26.37,-15),
 (26.89,5),(26.94,7),(27.03,4),(27.17,1),
 (27.86,1),(27.95,-1),(28.06,-10),(28.13,-31),(28.18,-37),(28.20,-45),(28.22,-50),(28.27,-52),(28.30,-58),
 (28.31,-66),(28.36,-56),(28.39,-33),(28.41,-54),(28.45,-50),(28.50,-52),(28.54,-48),(28.59,-43),(28.64,-35),
 (28.68,-27),(28.73,-17),(28.76,-11),(28.79,-5),(28.82,1),(28.86,8),(28.96,9),(29.05,6),(29.14,3),(29.18,0),
 (28.25,-47),(28.33,-60),(28.43,-48),(28.48,-55),
]

q_lat = [
 (0.26,4),(0.33,1),(0.38,3),(0.42,3),(0.47,1),(0.52,1),(0.56,1),(0.70,1),(0.84,1),(1.02,4),(1.06,5),(1.11,6),
 (1.16,7),(1.20,5),(1.25,6),(1.29,6),(1.34,7),(1.39,5),(1.43,4),(1.48,4),(1.52,3),(1.57,3),(1.66,1),
 (1.75,1),(1.84,1),(3.03,1),(3.17,1),(3.95,1),(4.22,1),(4.50,1),(4.59,1),(4.68,1),(4.78,1),(4.87,1),
 (4.96,1),(5.05,1),(5.14,1),(5.23,3),(5.42,1),(5.60,1),(5.97,1),(6.52,1),(6.88,1),(7.11,1),(7.80,1),
 (7.89,1),(7.98,1),(8.07,1),(8.16,1),(8.26,1),(8.35,1),(8.44,1),(8.53,1),(8.81,3),(9.08,1),(9.36,1),
 (9.45,1),(9.54,2),(9.68,4),(9.72,4),(9.81,3),(9.90,1),(10.00,1),(10.09,1),(10.18,1),(10.41,1),
 (10.45,1),(11.05,1),(11.37,1),(11.55,1),(11.69,4),(11.78,6),(11.85,7),(11.92,8),(12.01,6),(12.10,5),
 (12.20,4),(12.29,4),(12.38,4),(12.47,4),(12.56,4),(12.65,4),(12.74,4),(12.84,6),(12.93,6),(13.02,4),
 (13.11,4),(13.29,1),(13.48,1),(13.84,1),(13.98,1),(14.12,1),(14.26,1),(14.39,1),(14.67,1),(14.81,1),
 (14.94,1),(15.08,1),(15.22,1),(15.77,1),(15.90,1),(16.04,1),(16.18,1),(16.32,1),(16.50,1),(17.19,1),
 (17.51,1),(17.78,1),(18.15,1),(18.88,1),(19.02,1),(19.20,1),(19.43,1),(19.80,1),(19.94,1),(20.26,1),
 (20.44,1),(20.94,1),(21.17,1),(21.90,1),(22.18,1),(22.64,1),(22.77,2),(22.91,3),(23.09,1),(23.28,1),
 (23.83,1),(24.01,1),(24.42,1),(25.06,1),(25.29,1),(25.93,1),(26.12,1),(26.30,1),(26.94,1),(27.17,1),
 (27.81,1),(27.99,4),(28.09,6),(28.18,9),(28.27,6),(28.34,5),(28.41,4),(28.50,4),(28.59,4),(28.68,5),
 (28.77,6),(28.86,9),(28.96,8),(29.09,4),(29.18,1),
]

# night periods (UTC hours) for each day starting 28 Mar
night_start_h = [6.5,6.7,6.9,7.0,7.2,7.4,7.5,7.7,7.8,8.0,8.1,8.2,8.4,8.6,8.8,9.0,9.2,9.3,9.4,9.5,
                 9.6,9.6,9.8,9.9,10.0,10.1,10.2,10.3,10.4,10.6]
night_end_h = [16.2,16.3,16.2,16.1,16.0,15.9,15.7,15.6,15.4,15.2,15.0,14.9,14.8,14.8,14.8,14.8,14.8,
               14.8,14.8,14.9,14.9,14.9,14.7,14.6,14.5,14.3,14.2,14.0,13.9,13.7]

# ---------------- helpers ----------------
def tstr(d):
    return None if d is None else (BASE + pd.Timedelta(days=d)).strftime('%Y-%m-%d %H:%M:%S')

def split(points):
    xs = [None if p is None else tstr(p[0]) for p in points]
    ys = [None if p is None else p[1] for p in points]
    return xs, ys

# ---------------- geometry (page has an 8 px body margin) ----------------
OFF = 8
W, H = 1355 - 2 * OFF, 951 - 2 * OFF      # 1339 x 935
ML, MT = 79 - OFF, 51 - OFF                # 71, 43
PW, PH = 1256, 847
MR = W - ML - PW
MB = H - MT - PH
AX_W = 1114                                # px width of the panels
XD = [0, AX_W / PW]

def px(x):   # page px -> paper x
    return (x - OFF - ML) / PW

def py(y):   # page px -> paper y
    return (MT + PH - (y - OFF)) / PH

DOM_A = [py(306), 1.0]
DOM_B = [py(602), py(347)]
DOM_C = [0.0, py(643)]

BLUE = '#0000ff'
RED = '#ff1a1a'
ORANGE = '#ff8418'
TEAL = '#30b0c8'
FONT = 'Liberation Sans, Arial, sans-serif'
tickfont = dict(family=FONT, size=15, color='#262626', weight='bold')

fig = go.Figure()

# ---- Panel A ----
cx, cy = split(co2_flux)
fig.add_trace(go.Scatter(x=cx, y=cy, mode='markers', marker=dict(color=BLUE, size=5),
                         xaxis='x', yaxis='y', hoverinfo='skip'))

# wind-direction arrows (built from the direction data through the axis scales)
x0t, x1t = pd.Timestamp(X_START), pd.Timestamp(X_END)
ppd = AX_W / ((x1t - x0t).total_seconds() / 86400.0)   # px per day
ppu = (306 - 51) / 650.0                                # px per CO2 unit
ARROW_Y = 355
HALF = 10
BARB = 5
ax_x, ax_y = [], []
for d, deg in wind_dir:
    th = math.radians(deg)
    ux, uy = math.sin(th), math.cos(th)
    def pt(dxp, dyp):
        return tstr(d + dxp / ppd), ARROW_Y + dyp / ppu
    t0 = pt(-HALF * ux, -HALF * uy)
    h = pt(HALF * ux, HALF * uy)
    b1a, b2a = th + math.pi + 0.42, th + math.pi - 0.42
    b1 = pt(HALF * ux + BARB * math.sin(b1a), HALF * uy + BARB * math.cos(b1a))
    b2 = pt(HALF * ux + BARB * math.sin(b2a), HALF * uy + BARB * math.cos(b2a))
    for p in (t0, h, None, b1, h, b2, None):
        ax_x.append(None if p is None else p[0])
        ax_y.append(None if p is None else p[1])
fig.add_trace(go.Scatter(x=ax_x, y=ax_y, mode='lines', line=dict(color='#111111', width=1.2),
                         xaxis='x', yaxis='y', hoverinfo='skip'))

wx, wy = split(wind_speed)
fig.add_trace(go.Scatter(x=wx, y=wy, mode='lines',
                         line=dict(color='#111111', width=1.3, shape='spline', smoothing=0.6),
                         xaxis='x', yaxis='y2', hoverinfo='skip'))
tx, ty = split(air_temp)
fig.add_trace(go.Scatter(x=tx, y=ty, mode='lines',
                         line=dict(color=RED, width=1.3, shape='spline', smoothing=1.0),
                         xaxis='x', yaxis='y3', connectgaps=False, hoverinfo='skip'))

# ---- Panel B ----
sx, sy = split(rad_sw)
fig.add_trace(go.Scatter(x=sx, y=sy, mode='lines',
                         line=dict(color=RED, width=1.1, shape='spline', smoothing=0.8),
                         xaxis='x2', yaxis='y4', hoverinfo='skip'))
lx, ly = split(rad_lw)
fig.add_trace(go.Scatter(x=lx, y=ly, mode='lines',
                         line=dict(color='#2b2bff', width=1.1, shape='spline', smoothing=0.8),
                         xaxis='x2', yaxis='y4', hoverinfo='skip'))
nx, ny = split(rad_net)
fig.add_trace(go.Scatter(x=nx, y=ny, mode='lines',
                         line=dict(color='#1a1a1a', width=1.2, shape='spline', smoothing=0.5),
                         xaxis='x2', yaxis='y4', hoverinfo='skip'))

# ---- Panel C ----
qx, qy = split(q_sens)
fig.add_trace(go.Scatter(x=qx, y=qy, mode='markers', marker=dict(color=ORANGE, size=4.5),
                         xaxis='x3', yaxis='y5', hoverinfo='skip'))
lx2, ly2 = split(q_lat)
fig.add_trace(go.Scatter(x=lx2, y=ly2, mode='markers', marker=dict(color=TEAL, size=4.5),
                         xaxis='x3', yaxis='y5', hoverinfo='skip'))

# ---- night shading ----
shapes = []
for k, (s, e) in enumerate(zip(night_start_h, night_end_h)):
    t_s = tstr(k + s / 24.0)
    t_e = tstr(k + e / 24.0)
    for xr, yr in (('x', 'y domain'), ('x2', 'y4 domain'), ('x3', 'y5 domain')):
        shapes.append(dict(type='rect', xref=xr, yref=yr, x0=t_s, x1=t_e, y0=0, y1=1,
                           fillcolor='#e3e3e3', line=dict(width=0), layer='below'))

# ---- axes ----
xcommon = dict(type='date', range=[X_START, X_END], domain=XD, tick0='2017-03-29',
               dtick=2 * 86400000, tickformat='%d %b', ticks='inside', ticklen=8,
               tickcolor='#3c3c3c', showgrid=True, gridcolor='#cfcfcf', gridwidth=1,
               zeroline=False, showline=True, linecolor='#3c3c3c', linewidth=1,
               mirror='ticks', tickfont=tickfont, automargin=False)
ycommon = dict(dtick=50, ticks='inside', ticklen=6, tickcolor='#3c3c3c', showgrid=True,
               gridcolor='#d6d6d6', gridwidth=1, zeroline=True, zerolinecolor='#111111',
               zerolinewidth=1.2, showline=True, linecolor='#3c3c3c', linewidth=1,
               tickfont=tickfont, automargin=False)

tair_vals = list(range(-25, 45, 5))
tair_text = [str(v) if v <= 0 else '' for v in tair_vals]

fig.update_layout(
    width=W, height=H, margin=dict(l=ML, r=MR, t=MT, b=MB, autoexpand=False),
    paper_bgcolor='white', plot_bgcolor='white', showlegend=False,
    xaxis=dict(xcommon, anchor='y', showticklabels=False),
    xaxis2=dict(xcommon, anchor='y4', matches='x', showticklabels=False),
    xaxis3=dict(xcommon, anchor='y5', matches='x', showticklabels=True),
    yaxis=dict(ycommon, domain=DOM_A, range=[-250, 400], anchor='x', mirror=True),
    yaxis2=dict(overlaying='y', side='right', anchor='x', range=[-10, 16], domain=DOM_A,
                tickvals=list(range(0, 18, 2)), ticks='inside', ticklen=8, tickcolor='#3c3c3c',
                showgrid=False, zeroline=False, showline=False, tickfont=tickfont,
                automargin=False),
    yaxis3=dict(overlaying='y', side='right', anchor='free', position=px(1278), domain=DOM_A,
                range=[-25, 40], tickvals=tair_vals, ticktext=tair_text, ticks='inside',
                ticklen=13, tickcolor=RED, showgrid=False, zeroline=False, showline=True,
                linecolor=RED, linewidth=1, tickfont=dict(tickfont, color=RED),
                automargin=False),
    yaxis4=dict(ycommon, domain=DOM_B, range=[-150, 150], anchor='x2', mirror='ticks'),
    yaxis5=dict(ycommon, domain=DOM_C, range=[-150, 150], anchor='x3', mirror='ticks'),
    shapes=shapes,
)

ann = []
def add_text(x, y, text, size=15, color='#1a1a1a', angle=0):
    ann.append(dict(x=px(x), y=py(y), xref='paper', yref='paper', text=text, showarrow=False,
                    textangle=angle, font=dict(family=FONT, size=size, color=color),
                    xanchor='center', yanchor='middle'))

add_text(636, 15, 'DNB', size=16)
add_text(636, 936, 'Time', size=16)
add_text(99, 90, 'A', size=24)
add_text(99, 375, 'B', size=24)
add_text(99, 670, 'C', size=24)
add_text(19, 178, 'CO<sub>2</sub>-Flux [mmolm<sup>-2</sup>d<sup>-1</sup>]', size=15, color=BLUE, angle=-90)
add_text(1238, 180, 'Wind-speed [ms<sup>-1</sup>]', size=15, angle=-90)
add_text(1326, 175, 'T<sub>air</sub> [<sup>°</sup> C]', size=16, color=RED, angle=-90)
add_text(22, 470,
         "<span style='color:#ff1a1a'>R<sup>SW</sup><sub>n</sub></span>, "
         "<span style='color:#2b2bff'>R<sup>LW</sup><sub>n</sub></span> &amp; "
         "R<sub>NET</sub> [Wm<sup>-2</sup>]", size=15, angle=-90)
add_text(22, 768,
         "<span style='color:#ff8418'>Q<sub>SENS</sub></span> &amp; "
         "<span style='color:#30b0c8'>Q<sub>LAT</sub></span>  [Wm<sup>-2</sup>]", size=15, angle=-90)
add_text(1172, 64, 'N', size=20)
ann.append(dict(x=px(1172), y=py(80), xref='paper', yref='paper', text='', showarrow=True,
                ax=0, ay=27, arrowhead=2, arrowsize=1, arrowwidth=3, arrowcolor='#111111'))
fig.update_layout(annotations=ann)

fig.write_html('out.html')
